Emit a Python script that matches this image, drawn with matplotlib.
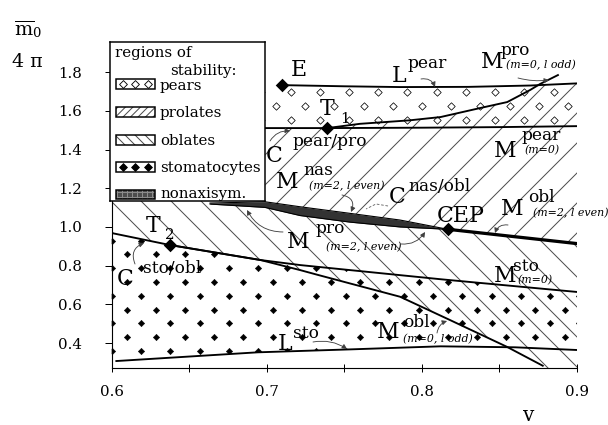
import numpy as np
import matplotlib
matplotlib.use('Agg')
import matplotlib.pyplot as plt
from matplotlib.patches import Polygon, Rectangle

# ---------------- data ----------------
lpear_x = [0.710, 0.750, 0.786, 0.830, 0.870, 0.900]
lpear_y = [1.733, 1.727, 1.723, 1.724, 1.731, 1.742]
pearpro_x = [0.699, 0.739, 0.800, 0.850, 0.900]
pearpro_y = [1.511, 1.511, 1.513, 1.516, 1.521]
mpro0_x = [0.739, 0.760, 0.792, 0.812, 0.8375, 0.855, 0.8697, 0.8761, 0.8877]
mpro0_y = [1.511, 1.533, 1.551, 1.568, 1.6145, 1.6455, 1.7075, 1.7385, 1.785]
band_x = [0.6634, 0.6988, 0.7214, 0.7536, 0.7859, 0.8166]
band_top = [1.1235, 1.1302, 1.1044, 1.0703, 1.0357, 0.988]
band_bot = [1.1183, 1.1010, 1.0590, 1.0250, 1.0000, 0.988]
cep_x = [0.8166, 0.900]
cep_y = [0.988, 0.914]
stoobl_x = [0.600, 0.6376]
stoobl_y = [0.9685, 0.9065]
msto_x = [0.6376, 0.696, 0.7215, 0.813, 0.900]
msto_y = [0.9065, 0.829, 0.803, 0.729, 0.664]
mobl0_x = [0.6376, 0.696, 0.7215, 0.733, 0.7859, 0.8181, 0.8547, 0.8779]
mobl0_y = [0.9065, 0.829, 0.777, 0.752, 0.6393, 0.5189, 0.3809, 0.2827]
lsto_x = [0.603, 0.694, 0.753, 0.812, 0.860, 0.900]
lsto_y = [0.307, 0.352, 0.367, 0.383, 0.378, 0.364]
point_names = ['E', 'T1', 'T2', 'CEP']
point_x = [0.710, 0.739, 0.6376, 0.8166]
point_y = [1.733, 1.511, 0.9065, 0.988]
xticks = [0.6, 0.7, 0.8, 0.9]
xminor = [0.65, 0.75, 0.85]
yticks = [0.4, 0.6, 0.8, 1.0, 1.2, 1.4, 1.6, 1.8]
legend_labels = ['pears', 'prolates', 'oblates', 'stomatocytes', 'nonaxisym.']

# ---------------- setup ----------------
W, H, DPI = 608, 425, 180
PT = 72.0 / DPI  # points per pixel
plt.rcParams['font.family'] = ['DejaVu Serif']
plt.rcParams['mathtext.fontset'] = 'dejavuserif'
plt.rcParams['hatch.linewidth'] = 0.4

fig = plt.figure(figsize=(W / DPI + 1e-4, H / DPI + 1e-4), dpi=DPI)
fig.patch.set_facecolor('white')
ax = fig.add_axes([111.7 / W, 1 - 368 / H, 465.3 / W, 326 / H], zorder=0)
ax.set_xlim(0.6, 0.9)
ax.set_ylim(0.271, 1.956)
for s in ['top', 'right']:
    ax.spines[s].set_visible(False)
for s in ['left', 'bottom']:
    ax.spines[s].set_linewidth(0.45)
ax.set_xticks(xticks)
ax.set_xticklabels([f'{v:.1f}' for v in xticks])
ax.set_xticks(xminor, minor=True)
ax.set_yticks(yticks)
ax.set_yticklabels([f'{v:.1f}' for v in yticks])
ax.tick_params(axis='x', which='both', direction='inout', length=3.2, width=0.4,
               pad=5.0, labelsize=15 * PT)
ax.tick_params(axis='y', direction='out', length=2.8, width=0.4, pad=9,
               labelsize=15 * PT)

xs = np.linspace(0.6, 0.9, 601)
fi = lambda xa, ya, x: np.interp(x, xa, ya)


def region(x, top, bot):
    return np.vstack([np.column_stack([x, top]), np.column_stack([x[::-1], bot[::-1]])])


# pear region
xp = xs[xs >= 0.699]
pear_top = np.where(xp < lpear_x[0], lpear_y[0], fi(lpear_x, lpear_y, xp))
pear_bot = fi(pearpro_x, pearpro_y, xp)
pear_verts = region(xp, pear_top, pear_bot)

# prolate region
pl = fi(pearpro_x, pearpro_y, xp)
pro_top = np.where(xp < point_x[1], pl,
                   np.minimum(np.maximum(fi(mpro0_x, mpro0_y, xp), pl), fi(lpear_x, lpear_y, xp)))
pro_bot = np.where(xp < cep_x[0], fi(band_x, band_top, xp), fi(cep_x, cep_y, xp))
pro_verts = region(xp, pro_top, pro_bot)

# oblate region
obl_top = np.where(xs < band_x[0], 1.134,
                   np.where(xs < cep_x[0], fi(band_x, band_bot, xs), fi(cep_x, cep_y, xs)))
obl_bot = np.where(xs < stoobl_x[1], fi(stoobl_x, stoobl_y, xs),
                   np.where(xs <= mobl0_x[-1], fi(mobl0_x, mobl0_y, xs), 0.271))
obl_verts = region(xs, obl_top, obl_bot)

# stomatocyte region
sto_top = np.where(xs < stoobl_x[1], fi(stoobl_x, stoobl_y, xs), fi(msto_x, msto_y, xs))
sto_bot = fi(lsto_x, lsto_y, xs)
sto_verts = region(xs, sto_top, sto_bot)

# hatched regions
for verts, h in [(pro_verts, '//'), (obl_verts, '\\\\')]:
    ax.add_patch(Polygon(verts, closed=True, facecolor='none', edgecolor='0.3',
                         lw=0, hatch=h, zorder=1))

# dot textures
dx = 29.2 / 1551.0
dy = 13.8 / 193.5


def dot_grid(x0, y0, nk, nj):
    gx, gy = [], []
    for k in range(-nk, nk):
        for j in range(-nj, nj):
            gx.append(x0 + j * dx + (k % 2) * dx / 2)
            gy.append(y0 + k * dy)
    return np.array(gx), np.array(gy)


clip_p = Polygon(pear_verts, closed=True, facecolor='none', edgecolor='none',
                 transform=ax.transData)
ax.add_patch(clip_p)
gx, gy = dot_grid(0.7154, 1.697, 6, 14)
sc = ax.scatter(gx, gy, marker='D', s=(2.1) ** 2, facecolor='white', edgecolor='black',
                linewidths=0.3, zorder=2)
sc.set_clip_path(clip_p)

clip_s = Polygon(sto_verts, closed=True, facecolor='none', edgecolor='none',
                 transform=ax.transData)
ax.add_patch(clip_s)
gx, gy = dot_grid(0.6002, 0.3587, 12, 20)
sc2 = ax.scatter(gx, gy, marker='D', s=(1.8) ** 2, facecolor='black', edgecolor='black',
                 linewidths=0.2, zorder=2)
sc2.set_clip_path(clip_s)

# nonaxisymmetric band
ax.fill_between(band_x, band_bot, band_top, color='0.2', lw=0, zorder=3)
ax.plot(band_x, band_top, color='black', lw=0.45, zorder=3)
ax.plot(band_x, band_bot, color='black', lw=0.45, zorder=3)

LW = 0.75
ax.plot(lpear_x, lpear_y, color='black', lw=LW, zorder=4)
ax.plot(pearpro_x, pearpro_y, color='black', lw=LW, zorder=4)
ax.plot(mpro0_x, mpro0_y, color='black', lw=LW, zorder=4)
ax.plot(cep_x, cep_y, color='black', lw=1.3, zorder=4)
ax.plot(stoobl_x, stoobl_y, color='black', lw=LW, zorder=4)
ax.plot(msto_x, msto_y, color='black', lw=LW, zorder=4)
ax.plot(mobl0_x, mobl0_y, color='black', lw=LW, zorder=4)
ax.plot(lsto_x, lsto_y, color='black', lw=LW, zorder=4)
ax.plot(point_x, point_y, linestyle='none', marker='D', markersize=2.6,
        color='black', zorder=5)

# ---------------- legend box ----------------
lg = fig.add_axes([110 / W, 1 - 201 / H, 155 / W, 159 / H], zorder=2)
lg.set_xlim(110, 265)
lg.set_ylim(201, 42)
lg.set_xticks([])
lg.set_yticks([])
for s in lg.spines.values():
    s.set_linewidth(0.6)
lg.set_facecolor('white')
fs_leg = 15 * PT
lg.text(115, 57, 'regions of', fontsize=fs_leg, va='baseline', ha='left')
lg.text(170, 75, 'stability:', fontsize=fs_leg, va='baseline', ha='left')
box_y = [79, 107, 135, 162, 190]
text_y = [90, 117, 145, 172, 198]
for i, lab in enumerate(legend_labels):
    y0 = box_y[i]
    bh = 10 if i != 4 else 9
    if i == 1:
        lg.add_patch(Rectangle((115.5, y0), 39.5, bh, facecolor='white', edgecolor='0.3',
                               lw=0, hatch='////////'))
    elif i == 2:
        lg.add_patch(Rectangle((115.5, y0), 39.5, bh, facecolor='white', edgecolor='0.3',
                               lw=0, hatch='\\' * 6))
    elif i == 4:
        lg.add_patch(Rectangle((115.5, y0), 39.5, bh, facecolor='0.3', edgecolor='0.55',
                               lw=0, hatch='++++++'))
    if i in (0, 3):
        fc = 'white' if i == 0 else 'black'
        lg.scatter([122.5, 135, 147.5], [y0 + 5, y0 + 5, y0 + 5], marker='D',
                   s=(2.2) ** 2, facecolor=fc, edgecolor='black', linewidths=0.35)
    lg.add_patch(Rectangle((115.5, y0), 39.5, bh, facecolor='none',
                           edgecolor='black', lw=0.6))
    lg.text(160, text_y[i], lab, fontsize=fs_leg, va='baseline', ha='left')

# ---------------- labels overlay ----------------
ov = fig.add_axes([0, 0, 1, 1], zorder=3)
ov.set_xlim(0, W)
ov.set_ylim(H, 0)
ov.axis('off')
ov.patch.set_alpha(0)

FM, FS, FB = 22 * PT, 17 * PT, 11 * PT


def T(x, y, s, size, italic=False):
    ov.text(x, y, s, fontsize=size, ha='left', va='baseline',
            style='italic' if italic else 'normal')


def label(main, mx, my, sup=None, sx=0, sy=0, sub=None, bx=0, by=0, subsize=None):
    T(mx, my, main, FM)
    if sup:
        T(sx, sy, sup, FS)
    if sub:
        T(bx, by, sub, subsize or FB, italic=subsize is None)


label('E', 291, 76)
label('L', 392, 82, 'pear', 407, 68)
label('T', 320, 115, sub='1', bx=340, by=123, subsize=15 * PT)
label('M', 481, 68, 'pro', 500, 55, '(m=0, l odd)', 506, 68)
label('C', 266, 162, 'pear/pro', 292, 146)
label('M', 494, 157, 'pear', 521, 140, '(m=0)', 524, 153)
label('M', 276, 188, 'nas', 303, 175, '(m=2, l even)', 309, 189)
label('C', 389, 203, 'nas/obl', 408, 191)
label('CEP', 437, 222)
label('M', 501, 215, 'obl', 528, 202, '(m=2, l even)', 533, 216)
label('M', 287, 248, 'pro', 315, 233, '(m=2, l even)', 326, 250)
label('T', 146, 232, sub='2', bx=165, by=239, subsize=15 * PT)
label('C', 117, 285, 'sto/obl', 143, 273)
label('M', 494, 282, 'sto', 513, 271, '(m=0)', 517, 283)
label('M', 377, 338, 'obl', 403, 327, '(m=0, l odd)', 403, 342)
label('L', 278, 350, 'sto', 293, 338)

ov.text(14, 35, r'$\overline{\mathrm{m}}_{0}$', fontsize=19 * PT, ha='left', va='baseline')
ov.text(12, 67, '4 π', fontsize=19 * PT, ha='left', va='baseline')
ov.text(523, 421, 'v', fontsize=20 * PT, ha='left', va='baseline')

arrows = [((421, 79), (435, 87), -0.4), ((518, 78), (549, 80), 0.1),
          ((270, 141), (290, 131), -0.3), ((342, 195), (351, 212), -0.6),
          ((508, 225), (495, 233), 0.4), ((283, 232), (247, 210), -0.3),
          ((401, 244), (425, 232), 0.3), ((135, 264), (144, 243), -0.5),
          ((437, 333), (447, 321), -0.3), ((313, 342), (347, 349), -0.2)]
for (x0, y0), (x1, y1), rad in arrows:
    ov.annotate('', xy=(x1, y1), xytext=(x0, y0),
                arrowprops=dict(arrowstyle='-|>', lw=0.35, color='0.25',
                                connectionstyle=f'arc3,rad={rad}', mutation_scale=4,
                                shrinkA=0, shrinkB=0))
ov.plot([388, 376, 366], [206, 204, 209], color='0.4', lw=0.35, ls=(0, (3, 2)))

fig.savefig('out.png', dpi=DPI, facecolor='white')
